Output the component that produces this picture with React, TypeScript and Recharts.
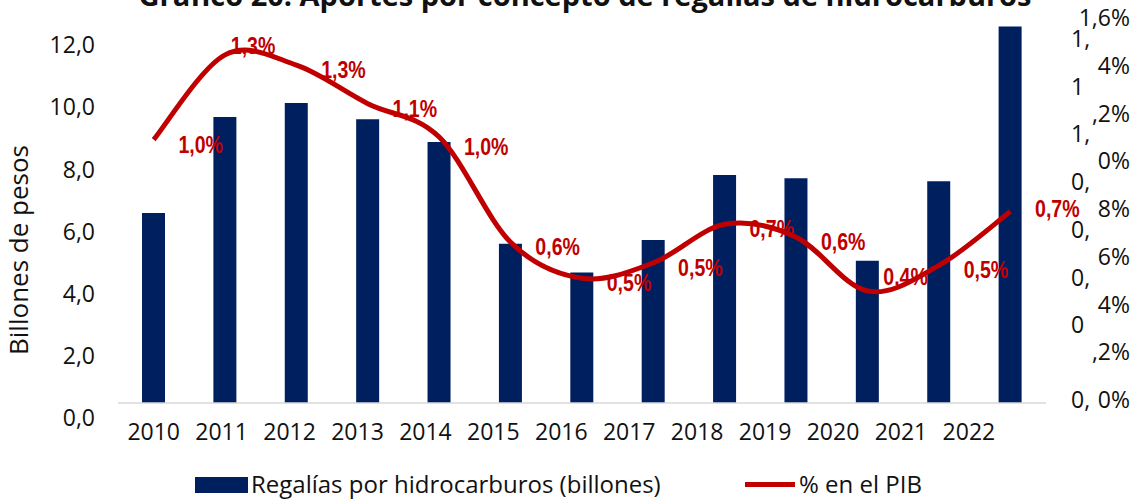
import { ComposedChart, Bar, Line, XAxis, YAxis, Legend, LabelList } from 'recharts';

const years = ['2010', '2011', '2012', '2013', '2014', '2015', '2016', '2017', '2018', '2019', '2020', '2021', '2022'];
const regalias = [6.12, 9.21, 9.66, 9.14, 8.4, 5.13, 4.2, 5.25, 7.34, 7.24, 4.58, 7.14, 12.12];
const pctPib = [0.99, 1.32, 1.28, 1.13, 1.0, 0.59, 0.45, 0.51, 0.66, 0.61, 0.4, 0.5, 0.71];

const leftTicks = [0, 2, 4, 6, 8, 10, 12];
const rightTicks = [0, 0.2, 0.4, 0.6, 0.8, 1.0, 1.2, 1.4, 1.6];
// the right axis labels wrap onto two lines in the original
const rightTickLabels = [
  ['0,', '0%'],
  ['0', ',2%'],
  ['0,', '4%'],
  ['0,', '6%'],
  ['0,', '8%'],
  ['1,', '0%'],
  ['1', ',2%'],
  ['1,', '4%'],
  ['', '1,6%'],
];

const NAVY = '#001f5f';
const RED = '#c00000';
const FONT = "'Open Sans', Lato, sans-serif";
const LABEL_FONT = "'Liberation Sans', Arial, sans-serif";
const CHART_W = 1138;

const rows = years.map((year, i) => ({ year, regalias: regalias[i], pib: pctPib[i] }));

// Excel-style smoothed line (Catmull-Rom through the points)
const excelSmooth = (context: any) => {
  let pts: [number, number][] = [];
  return {
    areaStart() {},
    areaEnd() {},
    lineStart() {
      pts = [];
    },
    lineEnd() {
      if (!pts.length) return;
      context.moveTo(pts[0][0], pts[0][1]);
      for (let i = 0; i < pts.length - 1; i++) {
        const p0 = pts[i - 1] || pts[i];
        const p1 = pts[i];
        const p2 = pts[i + 1];
        const p3 = pts[i + 2] || p2;
        context.bezierCurveTo(
          p1[0] + (p2[0] - p0[0]) / 6,
          p1[1] + (p2[1] - p0[1]) / 6,
          p2[0] - (p3[0] - p1[0]) / 6,
          p2[1] - (p3[1] - p1[1]) / 6,
          p2[0],
          p2[1],
        );
      }
    },
    point(x: number, y: number) {
      pts.push([x, y]);
    },
  };
};

const fmt1 = (v: number) => v.toFixed(1).replace('.', ',');

const LeftTick = ({ x, y, payload }: any) => (
  <text x={x - 23} y={y + 15} dy="0.35em" textAnchor="end" fontFamily={FONT} fontSize={23} fill="#111">
    {fmt1(payload.value)}
  </text>
);

const RightTick = ({ y, index }: any) => {
  const [a, b] = rightTickLabels[index] ?? ['', ''];
  const by = y - 3;
  const ay = index === 0 ? by : by - 27;
  return (
    <g fontFamily={FONT} fontSize={23} fill="#111">
      {a && (
        <text x={CHART_W - 67} y={ay} dy="0.35em" textAnchor="start">
          {a}
        </text>
      )}
      <text x={CHART_W - 8} y={by} dy="0.35em" textAnchor="end">
        {b}
      </text>
    </g>
  );
};

const YearTick = ({ x, y, payload, index }: any) => (
  <text x={x - index * 3.45} y={y + 29} dy="0.35em" textAnchor="middle" fontFamily={FONT} fontSize={23} fill="#111">
    {payload.value}
  </text>
);

const PctLabel = ({ x, y, value, index }: any) => {
  let dx = 47;
  let dy = 5;
  if (index === 1) {
    dx = 28;
    dy = -9;
  } else if (index === 4) {
    dy = 10;
  } else if (index === 10) {
    dx = 38;
    dy = -14;
  } else if (index === 12) {
    dy = -3;
  }
  return (
    <text
      transform={`translate(${x + dx} ${y + dy}) scale(0.85 1)`}
      dy="0.35em"
      textAnchor="middle"
      fontFamily={LABEL_FONT}
      fontWeight="bold"
      fontSize={23}
      fill={RED}
    >
      {fmt1(value) + '%'}
    </text>
  );
};

const LegendContent = () => (
  <div style={{ position: 'relative', height: 30, fontFamily: FONT, fontSize: 24, color: '#111', lineHeight: '30px' }}>
    <span style={{ position: 'absolute', left: 195, top: 8, width: 53, height: 16, background: NAVY }} />
    <span style={{ position: 'absolute', left: 251, top: 0, whiteSpace: 'nowrap' }}>
      Regalías por hidrocarburos (billones)
    </span>
    <span style={{ position: 'absolute', left: 745, top: 13, width: 50, height: 5, background: RED }} />
    <span style={{ position: 'absolute', left: 799, top: 0, whiteSpace: 'nowrap' }}>% en el PIB</span>
  </div>
);

export default function App() {
  return (
    <div style={{ position: 'absolute', left: 0, top: 0, width: CHART_W, height: 499, background: '#fff', overflow: 'hidden' }}>
      <svg width={CHART_W} height={499} style={{ position: 'absolute', left: 0, top: 0 }}>
        <text x={585} y={6} textAnchor="middle" fontFamily={FONT} fontWeight="bold" fontSize={29} fill="#111">
          Gráfico 20: Aportes por concepto de regalías de hidrocarburos
        </text>
        <text
          x={19}
          y={250}
          dy="0.35em"
          textAnchor="middle"
          transform="rotate(-90 19 250)"
          fontFamily={FONT}
          fontSize={26}
          fill="#111"
        >
          Billones de pesos
        </text>
      </svg>
      <div style={{ position: 'absolute', left: 0, top: 0 }}>
        <ComposedChart width={CHART_W} height={499} data={rows} margin={{ top: 21, right: 0, bottom: 0, left: 0 }}>
          <XAxis
            dataKey="year"
            height={66}
            interval={0}
            tickSize={0}
            tickMargin={0}
            tickLine={false}
            axisLine={{ stroke: '#d9d9d9', strokeWidth: 1.5 }}
            tick={<YearTick />}
          />
          <YAxis
            yAxisId="left"
            width={118}
            domain={[0, 12.3]}
            ticks={leftTicks}
            interval={0}
            allowDataOverflow
            axisLine={false}
            tickLine={false}
            tickSize={0}
            tickMargin={0}
            tick={<LeftTick />}
          />
          <YAxis
            yAxisId="right"
            orientation="right"
            width={92}
            type="number"
            domain={[0, 1.6]}
            ticks={rightTicks}
            interval={0}
            allowDataOverflow
            axisLine={false}
            tickLine={false}
            tickSize={0}
            tickMargin={0}
            tick={<RightTick />}
          />
          <YAxis yAxisId="pctLine" orientation="right" hide domain={[-0.036, 1.452]} allowDataOverflow />
          <Legend verticalAlign="bottom" content={<LegendContent />} wrapperStyle={{ left: 0, width: CHART_W, height: 30 }} />
          <Bar yAxisId="left" dataKey="regalias" fill={NAVY} barSize={23} isAnimationActive={false} />
          <Line
            yAxisId="pctLine"
            dataKey="pib"
            type={excelSmooth as any}
            stroke={RED}
            strokeWidth={5}
            dot={false}
            isAnimationActive={false}
          >
            <LabelList dataKey="pib" content={<PctLabel />} />
          </Line>
        </ComposedChart>
      </div>
    </div>
  );
}
